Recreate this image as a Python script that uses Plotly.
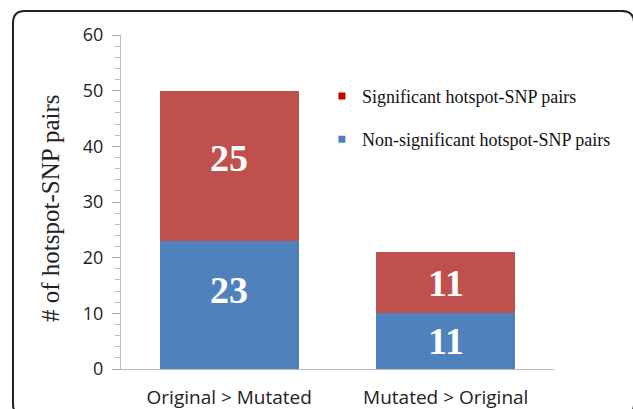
import plotly.graph_objects as go

categories = ["Original > Mutated", "Mutated > Original"]
nonsig_heights = [23, 10]
sig_heights = [27, 11]
nonsig_labels = ["23", "11"]
sig_labels = ["25", "11"]
y_ticks = [0, 10, 20, 30, 40, 50, 60]

RED = "#C0504D"
BLUE = "#4F81BD"

fig = go.Figure()
fig.add_trace(go.Bar(x=categories, y=nonsig_heights, marker_color=BLUE,
                     marker_line_width=0, width=0.64, showlegend=False))
fig.add_trace(go.Bar(x=categories, y=sig_heights, marker_color=RED,
                     marker_line_width=0, width=0.64, showlegend=False))

# legend entries (small squares)
fig.add_trace(go.Scatter(x=[None], y=[None], mode="markers", name="Significant hotspot-SNP pairs",
                         marker=dict(symbol="square", size=7, color="#C00000"), legendgroup="a"))
fig.add_trace(go.Scatter(x=[None], y=[None], mode="markers", name="Non-significant hotspot-SNP pairs",
                         marker=dict(symbol="square", size=7, color=BLUE), legendgroup="b"))

label_font = dict(family="Liberation Serif", size=38, color="white")
shifts_sig = [8, 0]
shifts_non = [15, 0]
for i, c in enumerate(categories):
    fig.add_annotation(x=c, y=nonsig_heights[i] / 2, text="<b>%s</b>" % nonsig_labels[i],
                       showarrow=False, font=label_font, yshift=shifts_non[i])
    fig.add_annotation(x=c, y=nonsig_heights[i] + sig_heights[i] / 2, text="<b>%s</b>" % sig_labels[i],
                       showarrow=False, font=label_font, yshift=shifts_sig[i])

fig.add_annotation(x=-0.164, y=0.482, xref="paper", yref="paper", text="# of hotspot-SNP pairs",
                   textangle=-90, showarrow=False, xanchor="center", yanchor="middle",
                   font=dict(family="Liberation Serif", size=25, color="#222"))

# rounded frame
L, R, T, B = -0.2494, 1.1848, 1.0719, -0.14
rx, ry = 12 / 433, 12 / 334
path = (f"M {L+rx},{T} L {R-rx},{T} Q {R},{T} {R},{T-ry} L {R},{B+ry} Q {R},{B} {R-rx},{B} "
        f"L {L+rx},{B} Q {L},{B} {L},{B+ry} L {L},{T-ry} Q {L},{T} {L+rx},{T} Z")
fig.add_shape(type="path", path=path, xref="paper", yref="paper",
              line=dict(color="#222", width=2))

fig.update_layout(
    width=633, height=409,
    margin=dict(l=121, r=79, t=35, b=40),
    barmode="stack", bargap=0.36,
    plot_bgcolor="white", paper_bgcolor="white",
    showlegend=True,
    legend=dict(x=0.464, y=0.872, xanchor="left", yanchor="top",
                font=dict(family="Liberation Serif", size=18, color="#111"),
                tracegroupgap=17, traceorder="grouped", bgcolor="rgba(0,0,0,0)"),
    xaxis=dict(range=[-0.5, 1.5], showline=True, linecolor="#BBBBBB", linewidth=1,
               ticks="", tickfont=dict(family="Open Sans", size=19, color="#222"),
               ticklabelstandoff=11, showgrid=False, zeroline=False, automargin=False),
    yaxis=dict(range=[0, 60], tickvals=y_ticks, showline=True, linecolor="#BBBBBB", linewidth=1,
               ticks="outside", ticklen=8, tickcolor="#AAAAAA",
               minor=dict(dtick=2, ticks="outside", ticklen=5, tickcolor="#BBBBBB"),
               tickfont=dict(family="Open Sans", size=18, color="#222"),
               showgrid=False, zeroline=False, ticklabelstandoff=5, automargin=False),
)

fig.write_html("out.html", config={"displayModeBar": False},
               post_script="document.body.style.margin='0';")
